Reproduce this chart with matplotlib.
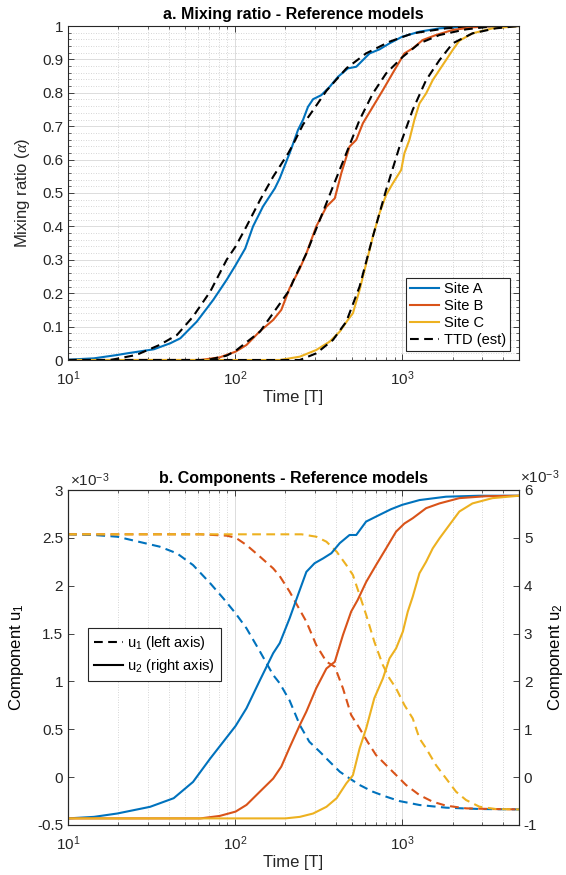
import matplotlib
matplotlib.use("Agg")
import matplotlib.pyplot as plt
from matplotlib.ticker import LogLocator, MultipleLocator, FormatStrFormatter, LogFormatterMathtext, NullFormatter
from matplotlib.lines import Line2D

plt.rcParams['font.family'] = ['Liberation Sans', 'DejaVu Sans']
plt.rcParams['mathtext.fontset'] = 'custom'
plt.rcParams['mathtext.rm'] = 'Liberation Sans'
plt.rcParams['mathtext.it'] = 'Liberation Serif:italic'
plt.rcParams['mathtext.bf'] = 'Liberation Sans:bold'
plt.rcParams['axes.unicode_minus'] = False

# ---------------- data: panel a (mixing ratio) ----------------
tA = [10, 14.3, 19.7, 22.6, 32.6, 40.9, 47, 59, 74, 89, 100.7, 115, 128, 147, 173, 185, 208,
      212, 238, 255, 273, 293, 328, 368, 413, 473, 531, 582, 638, 731, 839, 1000, 1270, 1672, 2410, 5000]
aA = [0.001, 0.005, 0.015, 0.02, 0.032, 0.05, 0.065, 0.115, 0.18, 0.24, 0.284, 0.334, 0.40, 0.46, 0.514,
      0.544, 0.609, 0.619, 0.689, 0.719, 0.758, 0.781, 0.793, 0.818, 0.848, 0.873, 0.878, 0.898, 0.918,
      0.930, 0.948, 0.968, 0.983, 0.993, 0.998, 1.0]
tB = [10, 62, 81, 100.7, 117, 140, 169, 189, 212, 244, 267, 306, 352, 395, 432, 484, 531, 582, 667,
      766, 899, 1031, 1156, 1327, 1592, 2003, 2634, 3630, 5000]
aB = [0.0, 0.0, 0.008, 0.025, 0.045, 0.085, 0.12, 0.15, 0.215, 0.274, 0.319, 0.40, 0.459, 0.484, 0.559,
      0.639, 0.659, 0.709, 0.758, 0.808, 0.868, 0.918, 0.933, 0.958, 0.973, 0.988, 0.996, 1.0, 1.0]
tC = [10, 185, 244, 306, 368, 423, 473, 507, 556, 609, 667, 731, 801, 879, 986, 1031, 1104, 1183,
      1268, 1390, 1523, 1668, 1829, 2004, 2198, 2634, 3467, 5000]
aC = [0.0, 0.0, 0.01, 0.03, 0.055, 0.085, 0.12, 0.14, 0.21, 0.289, 0.369, 0.439, 0.494, 0.529, 0.569,
      0.619, 0.659, 0.719, 0.768, 0.798, 0.838, 0.868, 0.898, 0.928, 0.956, 0.978, 0.993, 1.0]

# TTD (est) curves
ttA = [10, 17.9, 25.6, 35.3, 44.9, 56, 71, 89, 100.7, 117, 141, 169, 208, 222, 255, 293, 352, 463,
       608, 839, 1156, 1829, 3000, 5000]
tdA = [0.0, 0.0, 0.015, 0.045, 0.075, 0.13, 0.205, 0.30, 0.34, 0.40, 0.479, 0.549, 0.619, 0.645,
       0.705, 0.748, 0.806, 0.873, 0.918, 0.953, 0.978, 0.993, 1.0, 1.0]
ttB = [10, 68, 89, 101, 141, 212, 222, 267, 321, 385, 463, 556, 667, 801, 1009, 1268, 1672, 2410, 3630, 5000]
tdB = [0.0, 0.0, 0.013, 0.028, 0.085, 0.21, 0.235, 0.319, 0.419, 0.519, 0.619, 0.719, 0.798, 0.858,
       0.908, 0.948, 0.973, 0.99, 1.0, 1.0]
ttC = [10, 244, 306, 385, 463, 556, 667, 801, 964, 1156, 1390, 1672, 2004, 2634, 3630, 5000]
tdC = [0.0, 0.0, 0.02, 0.06, 0.115, 0.22, 0.369, 0.509, 0.639, 0.749, 0.838, 0.898, 0.948, 0.978, 0.993, 1.0]

# ---------------- data: panel b (components, x10^-3) ----------------
tA1 = [10, 14.3, 19.7, 25.4, 35.4, 44.9, 56, 71, 85, 100.7, 117, 141, 169, 185, 212, 244, 278, 321,
       368, 423, 484, 556, 667, 801, 964, 1268, 1829, 2900, 5000]
uA1 = [2.537, 2.53, 2.512, 2.467, 2.408, 2.338, 2.216, 2.025, 1.868, 1.711, 1.555, 1.311, 1.067, 0.98,
       0.80, 0.544, 0.37, 0.266, 0.161, 0.057, -0.013, -0.082, -0.152, -0.204, -0.25, -0.291, -0.319,
       -0.333, -0.337]
tB1 = [10, 62, 89, 100.7, 117, 141, 169, 185, 212, 244, 267, 306, 352, 395, 442, 495, 556, 620, 697,
       801, 919, 1054, 1268, 1523, 1829, 2410, 3467, 5000]
uB1 = [2.537, 2.537, 2.523, 2.502, 2.425, 2.303, 2.181, 2.10, 1.938, 1.746, 1.624, 1.38, 1.206, 1.154,
       0.928, 0.649, 0.51, 0.37, 0.231, 0.126, 0.022, -0.082, -0.187, -0.257, -0.298, -0.326, -0.333, -0.337]
tC1 = [10, 250, 306, 352, 405, 463, 507, 556, 609, 681, 766, 839, 919, 1031, 1156, 1268, 1390, 1592,
       1829, 2100, 2410, 2900, 3630, 5000]
uC1 = [2.537, 2.537, 2.512, 2.46, 2.356, 2.216, 2.112, 1.903, 1.694, 1.415, 1.171, 1.032, 0.928, 0.753,
       0.614, 0.405, 0.301, 0.126, -0.013, -0.152, -0.239, -0.309, -0.333, -0.337]

tA2 = [10, 14.3, 19.7, 31, 42.9, 56, 71, 85, 100.7, 117, 141, 169, 185, 212, 238, 267, 299, 336, 377,
       423, 484, 531, 608, 731, 859, 1000, 1270, 1829, 2880, 5000]
uA2 = [-0.862, -0.83, -0.76, -0.62, -0.44, -0.10, 0.39, 0.74, 1.07, 1.44, 2.03, 2.59, 2.80, 3.32, 3.81,
       4.29, 4.47, 4.57, 4.68, 4.89, 5.06, 5.06, 5.34, 5.48, 5.60, 5.69, 5.79, 5.86, 5.88, 5.88]
tB2 = [10, 62, 81, 100.7, 117, 141, 169, 189, 212, 244, 267, 306, 352, 395, 442, 495, 541, 609, 697,
       801, 919, 1031, 1156, 1390, 1672, 2198, 3169, 5000]
uB2 = [-0.862, -0.862, -0.81, -0.72, -0.58, -0.30, -0.03, 0.22, 0.62, 1.09, 1.37, 1.86, 2.27, 2.41,
       2.97, 3.46, 3.70, 4.08, 4.43, 4.78, 5.13, 5.30, 5.41, 5.62, 5.72, 5.83, 5.87, 5.88]
tC2 = [10, 200, 244, 293, 352, 405, 463, 507, 556, 609, 681, 766, 839, 919, 1009, 1080, 1156, 1268,
       1390, 1523, 1672, 1916, 2198, 2634, 3467, 5000]
uC2 = [-0.862, -0.862, -0.83, -0.76, -0.62, -0.44, -0.13, 0.04, 0.60, 1.02, 1.65, 2.06, 2.48, 2.69,
       3.04, 3.46, 3.77, 4.26, 4.50, 4.78, 4.99, 5.27, 5.55, 5.72, 5.83, 5.88]

site_labels = ['Site A', 'Site B', 'Site C']
ttd_label = 'TTD (est)'
colors = ['#0072BD', '#D95319', '#EDB120']

# ---------------- figure ----------------
W, H = 566, 875
fig = plt.figure(figsize=(W / 100, H / 100), dpi=100)
axc = '#262626'
LW = 1.5
DASH = (4.2, 2.6)

def style_axis(ax, ygrid=True):
    ax.set_xscale('log')
    ax.set_xlim(10, 5000)
    ax.xaxis.set_major_locator(LogLocator(base=10, numticks=10))
    ax.xaxis.set_minor_locator(LogLocator(base=10, subs=range(2, 10), numticks=20))
    ax.xaxis.set_major_formatter(LogFormatterMathtext())
    ax.xaxis.set_minor_formatter(NullFormatter())
    for s in ax.spines.values():
        s.set_color(axc)
        s.set_linewidth(0.8)
    ax.tick_params(which='both', direction='in', colors=axc, labelsize=11, top=True)
    ax.tick_params(which='major', length=4.5, width=0.6)
    ax.tick_params(which='minor', length=2.5, width=0.5)
    ax.tick_params(axis='x', which='major', pad=7)
    ax.grid(True, which='major', axis='x', color='#dcdcdc', linewidth=0.7, linestyle='-')
    ax.grid(True, which='minor', axis='x', color='#c8c8c8', linewidth=0.6, linestyle=(0, (1, 2)))
    if ygrid:
        ax.grid(True, which='major', axis='y', color='#dcdcdc', linewidth=0.7, linestyle='-')
        ax.grid(True, which='minor', axis='y', color='#c8c8c8', linewidth=0.6, linestyle=(0, (1, 2)))
    ax.set_axisbelow(True)

# panel a
ax1 = fig.add_axes([68 / W, 1 - 360 / H, 451 / W, 334 / H])
style_axis(ax1)
ax1.set_ylim(0, 1)
ax1.yaxis.set_major_locator(MultipleLocator(0.1))
ax1.yaxis.set_minor_locator(MultipleLocator(0.02))
ax1.yaxis.set_major_formatter(FormatStrFormatter('%g'))
ax1.tick_params(axis='y', which='both', right=True)

hs = []
for t, a, tt, td, c, lab in zip([tA, tB, tC], [aA, aB, aC], [ttA, ttB, ttC], [tdA, tdB, tdC], colors, site_labels):
    h, = ax1.plot(t, a, color=c, lw=LW, label=lab)
    hs.append(h)
    hd, = ax1.plot(tt, td, color='black', lw=LW, dashes=DASH, label=ttd_label)
hs.append(hd)
leg1 = ax1.legend(handles=hs, loc='lower right', fontsize=10.5, frameon=True, fancybox=False,
                  edgecolor=axc, framealpha=1, borderpad=0.3, labelspacing=0.2,
                  handlelength=2.0, handletextpad=0.3, borderaxespad=0.6)
leg1.get_frame().set_linewidth(0.8)
ax1.set_title('a. Mixing ratio - Reference models', fontsize=11.5, fontweight='bold', color='black', pad=5)
ax1.set_xlabel('Time [T]', fontsize=12, color=axc, labelpad=1)
ax1.set_ylabel(r'Mixing ratio ($\alpha$)', fontsize=12, color=axc, labelpad=7)

# panel b
ax2 = fig.add_axes([68 / W, 1 - 825 / H, 451 / W, 335 / H])
style_axis(ax2, ygrid=False)
ax2.set_ylim(-0.5, 3)
ax2.yaxis.set_major_locator(MultipleLocator(0.5))
ax2.yaxis.set_major_formatter(FormatStrFormatter('%g'))
ax2.tick_params(axis='y', which='both', right=False)

for t, u, c in zip([tA1, tB1, tC1], [uA1, uB1, uC1], colors):
    ax2.plot(t, u, color=c, lw=LW, dashes=DASH)

ax3 = ax2.twinx()
ax3.set_xscale('log')
ax3.set_xlim(10, 5000)
ax3.set_ylim(-1, 6)
ax3.yaxis.set_major_locator(MultipleLocator(1))
ax3.yaxis.set_major_formatter(FormatStrFormatter('%g'))
for s in ax3.spines.values():
    s.set_color(axc)
    s.set_linewidth(0.8)
ax3.tick_params(axis='y', which='major', direction='in', colors=axc, labelsize=11, length=4.5, width=0.6)
ax3.tick_params(axis='x', which='both', bottom=False, top=False, labelbottom=False)
for t, u, c in zip([tA2, tB2, tC2], [uA2, uB2, uC2], colors):
    ax3.plot(t, u, color=c, lw=LW)

ax2.set_title('b. Components - Reference models', fontsize=11.5, fontweight='bold', color='black', pad=5)
ax2.set_xlabel('Time [T]', fontsize=12, color=axc, labelpad=1)
ax2.set_ylabel(r'Component u$_1$', fontsize=12, color='black', labelpad=8)
ax3.set_ylabel(r'Component u$_2$', fontsize=12, color='black', labelpad=6)
ax2.text(0.005, 1.003, r'$\times$10$^{-3}$', transform=ax2.transAxes, ha='left', va='bottom',
         fontsize=11, color=axc)
ax3.text(1.003, 1.012, r'$\times$10$^{-3}$', transform=ax3.transAxes, ha='left', va='bottom',
         fontsize=11, color=axc)

lh = [Line2D([], [], color='black', lw=LW, dashes=DASH), Line2D([], [], color='black', lw=LW)]
leg2 = ax3.legend(lh, [r'u$_1$ (left axis)', r'u$_2$ (right axis)'], loc='upper left',
                  bbox_to_anchor=((88 - 68) / 451, 1 - (628 - 490) / 335), fontsize=10.5,
                  frameon=True, fancybox=False, edgecolor=axc, framealpha=1, borderpad=0.4,
                  labelspacing=0.35, handlelength=2.0, handletextpad=0.3, borderaxespad=0)
leg2.get_frame().set_linewidth(0.8)

fig.savefig('out.png', dpi=100, facecolor='white')
